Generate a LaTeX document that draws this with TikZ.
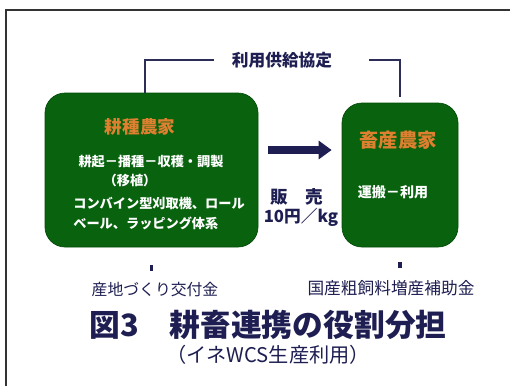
\documentclass[tikz,border=0pt]{standalone}
\usepackage{fontspec}
\newfontfamily\jp{Noto Sans CJK JP}
\usepackage{tikz}
\usetikzlibrary{arrows.meta, positioning}
\definecolor{farmgreen}{RGB}{8,98,14}
\definecolor{farmorange}{RGB}{222,128,48}
\definecolor{inkblue}{RGB}{30,30,82}

\begin{document}
\begin{tikzpicture}[font=\jp,
		farmbox/.style = {draw = farmgreen!80!black, fill = farmgreen, rounded corners = 0.4cm, inner sep = 0pt},
		boxhead/.style = {text = farmorange, font = \jp\bfseries\fontsize{10}{12}\selectfont},
		boxtext/.style = {text = white, font = \jp\bfseries\fontsize{7.5}{9}\selectfont, inner sep = 0pt},
		bracket/.style = {draw = inkblue!85!gray, line width = 1.1pt},
		stub/.style = {draw = inkblue, line width = 2.2pt},
		note/.style = {text = inkblue, font = \jp\fontsize{9}{11}\selectfont, inner sep = 0pt}]
				\useasboundingbox (0,0) rectangle (10.2,-7.7);
				% frame
				\draw[black!80, line width = 1.3pt] (0.12,-7.8) -- (0.12,-0.2) -- (10.3,-0.2);
				% farmers
				\node[farmbox, minimum width = 4.26cm, minimum height = 3.08cm] (lbox) at (3.03,-3.4) {};
				\node[farmbox, minimum width = 2.32cm, minimum height = 2.88cm] (fbox) at (8.0,-3.5) {};
				\node[boxhead] (ltitle) at (2.8,-2.54) {耕種農家};
				\node[boxtext] (lwork) at (3.02,-3.24) {耕起－播種－収穫・調製};
				\node[boxtext] (lplant) at (2.6,-3.6) {（移植）};
				\node[boxtext, anchor = west] (lmach) at (1.46,-4.06) {コンバイン型刈取機、ロール};
				\node[boxtext, anchor = west] (lwrap) at (1.46,-4.46) {ベール、ラッピング体系};
				\node[boxhead, font = \jp\bfseries\fontsize{11}{13}\selectfont] (ftitle) at (7.96,-2.8) {畜産農家};
				\node[boxtext, font = \jp\bfseries\fontsize{8}{10}\selectfont] (fwork) at (7.86,-3.84) {運搬－利用};
				% agreement
				\node[note, font = \jp\bfseries\fontsize{9.5}{11}\selectfont] (agr) at (5.64,-1.2) {利用供給協定};
				\draw[bracket] ([xshift = -0.13cm]lbox.north) |- ([xshift = -0.36cm]agr.west);
				\draw[bracket] ([xshift = 0.74cm]agr.east) -| ([yshift = 0.12cm]fbox.north);
				% sale
				\draw[draw = inkblue, line width = 4.5pt, -{Triangle[length = 0.26cm, width = 0.36cm]}] ([shift = {(0.2,0.4)}]lbox.east) -- ([shift = {(-0.2,0.5)}]fbox.west);
				\node[note, font = \jp\bfseries\fontsize{10}{12}\selectfont] (sale) at (5.94,-3.94) {販　売};
				\node[note, font = \jp\bfseries\fontsize{9.5}{11}\selectfont] (price) at (6.02,-4.34) {10円／kg};
				% subsidies
				\draw[stub] ([yshift = -0.36cm]lbox.south) -- ([yshift = -0.48cm]lbox.south);
				\draw[stub] ([yshift = -0.3cm]fbox.south) -- ([yshift = -0.42cm]fbox.south);
				\node[note] (lsub) at (3.1,-5.8) {産地づくり交付金};
				\node[note, font = \jp\fontsize{9.5}{11}\selectfont] (fsub) at (7.82,-5.76) {国産粗飼料増産補助金};
				% caption
				\node[note, font = \jp\bfseries\fontsize{17.5}{20}\selectfont] (cap) at (5.36,-6.5) {図3　耕畜連携の役割分担};
				\node[note, font = \jp\fontsize{11.5}{13}\selectfont] (subcap) at (5.36,-7.1) {（イネWCS生産利用）};
			\end{tikzpicture}
\end{document}
